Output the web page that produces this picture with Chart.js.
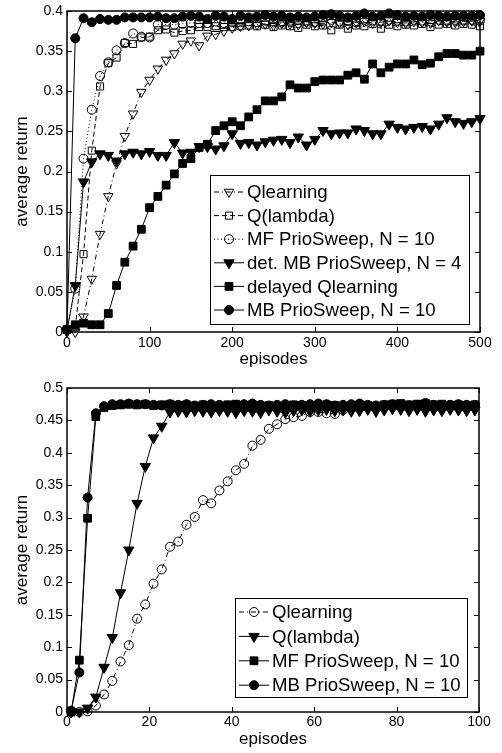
<!DOCTYPE html>
<html>
<head>
<meta charset="utf-8">
<script src="https://cdn.jsdelivr.net/npm/chart.js"></script>
<style>
  html, body { margin: 0; padding: 0; background: #fff; }
  #top { position: absolute; left: 0; top: 0; width: 502px; height: 376px; }
  #bottom { position: absolute; left: 0; top: 376px; width: 502px; height: 377px; }
</style>
</head>
<body>
<div id="top"><canvas id="chartTop"></canvas></div>
<div id="bottom"><canvas id="chartBottom"></canvas></div>
<script>
// upper plot: episodes 0..500, one point every 10 episodes
const episodesTop = [0, 10, 20, 30, 40, 50, 60, 70, 80, 90, 100, 110, 120, 130, 140, 150, 160, 170, 180, 190,
  200, 210, 220, 230, 240, 250, 260, 270, 280, 290, 300, 310, 320, 330, 340, 350, 360, 370, 380, 390,
  400, 410, 420, 430, 440, 450, 460, 470, 480, 490, 500];

const qlearningTop = [0.0, 0.0, 0.019, 0.066, 0.122, 0.169, 0.21, 0.244, 0.272, 0.299, 0.314, 0.328, 0.339, 0.347, 0.359, 0.363, 0.357, 0.369, 0.371, 0.375,
  0.379, 0.381, 0.382, 0.383, 0.384, 0.382, 0.385, 0.384, 0.383, 0.386, 0.385, 0.384, 0.386, 0.385, 0.383, 0.386, 0.387, 0.385, 0.386, 0.388,
  0.386, 0.385, 0.387, 0.386, 0.385, 0.388, 0.387, 0.386, 0.387, 0.388, 0.388];

const qlambdaTop = [0.003, 0.006, 0.097, 0.226, 0.306, 0.335, 0.342, 0.36, 0.359, 0.367, 0.368, 0.376, 0.377, 0.373, 0.375, 0.376, 0.38, 0.38, 0.381, 0.38,
  0.38, 0.381, 0.382, 0.381, 0.383, 0.38, 0.382, 0.381, 0.379, 0.383, 0.381, 0.382, 0.376, 0.383, 0.378, 0.382, 0.381, 0.384, 0.378, 0.383,
  0.381, 0.383, 0.382, 0.384, 0.38, 0.383, 0.384, 0.382, 0.384, 0.383, 0.381];

const mfSweepTop = [0.003, 0.054, 0.216, 0.277, 0.319, 0.336, 0.351, 0.36, 0.372, 0.368, 0.367, 0.383, 0.383, 0.383, 0.384, 0.385, 0.385, 0.385, 0.387, 0.385,
  0.386, 0.388, 0.387, 0.386, 0.388, 0.387, 0.386, 0.388, 0.389, 0.387, 0.386, 0.388, 0.389, 0.387, 0.388, 0.386, 0.389, 0.388, 0.387, 0.389,
  0.388, 0.387, 0.389, 0.388, 0.387, 0.389, 0.388, 0.389, 0.388, 0.389, 0.388];

const detMbSweepTop = [0.002, 0.058, 0.187, 0.212, 0.222, 0.22, 0.213, 0.222, 0.224, 0.222, 0.225, 0.22, 0.22, 0.236, 0.223, 0.224, 0.231, 0.231, 0.228, 0.232,
  0.247, 0.235, 0.236, 0.233, 0.237, 0.239, 0.24, 0.236, 0.243, 0.233, 0.24, 0.251, 0.247, 0.248, 0.248, 0.253, 0.251, 0.247, 0.247, 0.259,
  0.255, 0.253, 0.255, 0.256, 0.253, 0.259, 0.267, 0.262, 0.26, 0.262, 0.266];

const delayedQTop = [0.003, 0.009, 0.011, 0.009, 0.009, 0.023, 0.058, 0.087, 0.107, 0.128, 0.155, 0.169, 0.183, 0.197, 0.21, 0.216, 0.23, 0.234, 0.251, 0.257,
  0.262, 0.257, 0.268, 0.277, 0.288, 0.288, 0.293, 0.308, 0.304, 0.304, 0.312, 0.314, 0.314, 0.314, 0.32, 0.323, 0.315, 0.334, 0.323, 0.33,
  0.334, 0.334, 0.339, 0.333, 0.335, 0.343, 0.347, 0.347, 0.345, 0.345, 0.35];

const mbSweepTop = [0.003, 0.366, 0.391, 0.386, 0.39, 0.389, 0.389, 0.392, 0.392, 0.392, 0.392, 0.393, 0.391, 0.391, 0.393, 0.394, 0.393, 0.39, 0.394, 0.393,
  0.39, 0.394, 0.392, 0.393, 0.395, 0.393, 0.394, 0.392, 0.393, 0.392, 0.393, 0.395, 0.396, 0.394, 0.392, 0.394, 0.397, 0.393, 0.394, 0.397,
  0.395, 0.393, 0.394, 0.393, 0.395, 0.394, 0.393, 0.394, 0.394, 0.394, 0.395];

// lower plot: episodes 1..99, every second episode
const episodesBottom = [1, 3, 5, 7, 9, 11, 13, 15, 17, 19, 21, 23, 25, 27, 29, 31, 33, 35, 37, 39,
  41, 43, 45, 47, 49, 51, 53, 55, 57, 59, 61, 63, 65, 67, 69, 71, 73, 75, 77, 79,
  81, 83, 85, 87, 89, 91, 93, 95, 97, 99];

const qlearningBottom = [0.0, 0.0, 0.001, 0.01, 0.027, 0.048, 0.078, 0.103, 0.144, 0.166, 0.198, 0.22, 0.255, 0.263, 0.289, 0.301, 0.327, 0.322, 0.342, 0.356,
  0.373, 0.383, 0.411, 0.42, 0.437, 0.444, 0.452, 0.455, 0.457, 0.463, 0.463, 0.461, 0.46, 0.466, 0.469, 0.47, 0.471, 0.47, 0.472, 0.471,
  0.472, 0.473, 0.474, 0.477, 0.474, 0.473, 0.474, 0.473, 0.472, 0.473];

const qlambdaBottom = [0.0, 0.0, 0.006, 0.023, 0.069, 0.115, 0.184, 0.25, 0.322, 0.379, 0.423, 0.441, 0.463, 0.464, 0.463, 0.465, 0.464, 0.463, 0.465, 0.464,
  0.462, 0.465, 0.464, 0.462, 0.466, 0.464, 0.462, 0.465, 0.466, 0.464, 0.466, 0.467, 0.465, 0.466, 0.464, 0.465, 0.467, 0.464, 0.466, 0.468,
  0.467, 0.465, 0.467, 0.464, 0.466, 0.465, 0.467, 0.466, 0.465, 0.466];

const mfSweepBottom = [0.0, 0.08, 0.299, 0.456, 0.47, 0.473, 0.474, 0.475, 0.474, 0.475, 0.473, 0.474, 0.475, 0.473, 0.474, 0.472, 0.474, 0.473, 0.472, 0.474,
  0.475, 0.473, 0.474, 0.472, 0.473, 0.472, 0.473, 0.474, 0.473, 0.472, 0.473, 0.474, 0.473, 0.472, 0.473, 0.474, 0.473, 0.472, 0.474, 0.475,
  0.476, 0.474, 0.475, 0.476, 0.474, 0.475, 0.473, 0.474, 0.473, 0.474];

const mbSweepBottom = [0.002, 0.061, 0.331, 0.461, 0.472, 0.475, 0.475, 0.476, 0.475, 0.475, 0.474, 0.473, 0.475, 0.474, 0.475, 0.473, 0.474, 0.475, 0.474, 0.473,
  0.474, 0.475, 0.476, 0.474, 0.473, 0.474, 0.475, 0.473, 0.474, 0.475, 0.476, 0.475, 0.473, 0.474, 0.475, 0.476, 0.474, 0.473, 0.474, 0.475,
  0.474, 0.473, 0.474, 0.475, 0.474, 0.473, 0.474, 0.475, 0.474, 0.474];

const FONT = '"Liberation Sans", Arial, Helvetica, sans-serif';
const OPEN = 'rgba(0,0,0,0)';

function pts(xs, ys) {
  return xs.map((x, i) => ({ x: x, y: ys[i] }));
}

function series(label, xs, ys, style, filled, dash, radius, rot, order) {
  return {
    label: label,
    data: pts(xs, ys),
    borderColor: '#000',
    borderWidth: 1,
    borderDash: dash,
    pointStyle: style,
    pointRadius: radius,
    pointRotation: rot,
    pointBorderWidth: 1,
    pointBorderColor: '#000',
    pointBackgroundColor: filled ? '#000' : OPEN,
    tension: 0,
    clip: false,
    order: order
  };
}

// MATLAB-ish box with inward ticks on all sides
const frameTicks = {
  id: 'frameTicks',
  afterDatasetsDraw(chart) {
    const { ctx, chartArea: a, scales } = chart;
    const sx = scales.x, sy = scales.y;
    ctx.save();
    ctx.strokeStyle = '#000';
    ctx.lineWidth = 1;
    ctx.beginPath();
    sx.ticks.forEach(t => {
      const px = Math.round(sx.getPixelForValue(t.value)) + 0.5;
      ctx.moveTo(px, a.bottom); ctx.lineTo(px, a.bottom - 5);
      ctx.moveTo(px, a.top); ctx.lineTo(px, a.top + 5);
    });
    sy.ticks.forEach(t => {
      const py = Math.round(sy.getPixelForValue(t.value)) + 0.5;
      ctx.moveTo(a.left, py); ctx.lineTo(a.left + 5, py);
      ctx.moveTo(a.right, py); ctx.lineTo(a.right - 5, py);
    });
    ctx.stroke();
    ctx.lineWidth = 1.5;
    ctx.strokeRect(a.left, a.top, a.right - a.left, a.bottom - a.top);
    ctx.restore();
  }
};

// legend box drawn inside the plot area
const boxLegend = {
  id: 'boxLegend',
  afterDraw(chart, args, o) {
    const { ctx, chartArea: a } = chart;
    const x1 = a.right - o.right, x0 = x1 - o.width;
    const y1 = a.bottom - o.bottom, y0 = y1 - o.height;
    ctx.save();
    ctx.fillStyle = '#fff';
    ctx.fillRect(x0, y0, x1 - x0, y1 - y0);
    ctx.strokeStyle = '#000';
    ctx.lineWidth = 1;
    ctx.strokeRect(x0 + 0.5, y0 + 0.5, x1 - x0, y1 - y0);
    o.labels.forEach((idx, i) => {
      const ds = chart.data.datasets[idx];
      const y = y0 + o.first + i * o.rowH;
      ctx.strokeStyle = '#000';
      ctx.lineWidth = 1;
      ctx.setLineDash(ds.borderDash || []);
      ctx.beginPath();
      ctx.moveTo(x0 + 4, y);
      ctx.lineTo(x0 + 34, y);
      ctx.stroke();
      ctx.setLineDash([]);
      ctx.fillStyle = ds.pointBackgroundColor;
      Chart.helpers.drawPoint(ctx, {
        pointStyle: ds.pointStyle,
        radius: ds.pointRadius,
        rotation: ds.pointRotation,
        borderWidth: 1
      }, x0 + 19, y);
      ctx.fillStyle = '#000';
      ctx.font = '18.6px ' + FONT;
      ctx.textBaseline = 'middle';
      ctx.textAlign = 'left';
      ctx.fillText(ds.label, x0 + 37, y + 1);
    });
    ctx.restore();
  }
};

function axisOpts(min, max, step, size, pad, titlePad, isX) {
  const o = {
    type: 'linear',
    min: min,
    max: max,
    grid: { display: false, drawTicks: false },
    border: { display: false },
    ticks: {
      stepSize: step,
      autoSkip: false,
      maxRotation: 0,
      padding: pad,
      color: '#000',
      font: { family: FONT, size: 14, lineHeight: 1 },
      callback: v => String(+v.toFixed(2))
    },
    title: {
      display: true,
      text: isX ? 'episodes' : 'average return',
      color: '#000',
      font: { family: FONT, size: 17 },
      padding: titlePad
    }
  };
  o.afterFit = isX ? (s => { s.height = size; }) : (s => { s.width = size; });
  return o;
}

Chart.defaults.animation = false;

new Chart(document.getElementById('chartTop'), {
  type: 'line',
  data: {
    datasets: [
      series('Qlearning', episodesTop, qlearningTop, 'triangle', false, [5, 3, 1, 3], 5.5, 180, 6),
      series('Q(lambda)', episodesTop, qlambdaTop, 'rect', false, [5, 3], 5, 0, 5),
      series('MF PrioSweep, N = 10', episodesTop, mfSweepTop, 'circle', false, [1, 2.5], 4.5, 0, 4),
      series('det. MB PrioSweep, N = 4', episodesTop, detMbSweepTop, 'triangle', true, [], 6, 180, 3),
      series('delayed Qlearning', episodesTop, delayedQTop, 'rect', true, [], 5.5, 0, 2),
      series('MB PrioSweep, N = 10', episodesTop, mbSweepTop, 'circle', true, [], 4.5, 0, 1)
    ]
  },
  options: {
    responsive: true,
    maintainAspectRatio: false,
    devicePixelRatio: 1,
    layout: { padding: { left: 0, top: 7, right: 22, bottom: 0 } },
    scales: {
      x: axisOpts(0, 500, 100, 44, 4, { bottom: 6 }, true),
      y: axisOpts(0, 0.4, 0.05, 67, 4, { top: 12 }, false)
    },
    plugins: {
      legend: { display: false },
      tooltip: { enabled: false },
      boxLegend: { right: 11, bottom: 8, width: 259, height: 149, first: 17, rowH: 23.6, labels: [0, 1, 2, 3, 4, 5] }
    }
  },
  plugins: [frameTicks, boxLegend]
});

new Chart(document.getElementById('chartBottom'), {
  type: 'line',
  data: {
    datasets: [
      series('Qlearning', episodesBottom, qlearningBottom, 'circle', false, [5, 3, 1, 3], 4.5, 0, 4),
      series('Q(lambda)', episodesBottom, qlambdaBottom, 'triangle', true, [], 6, 180, 3),
      series('MF PrioSweep, N = 10', episodesBottom, mfSweepBottom, 'rect', true, [], 5.5, 0, 2),
      series('MB PrioSweep, N = 10', episodesBottom, mbSweepBottom, 'circle', true, [], 4.5, 0, 1)
    ]
  },
  options: {
    responsive: true,
    maintainAspectRatio: false,
    devicePixelRatio: 1,
    layout: { padding: { left: 0, top: 12, right: 23, bottom: 0 } },
    scales: {
      x: axisOpts(0, 100, 20, 41, 3, { bottom: 3 }, true),
      y: axisOpts(0, 0.5, 0.05, 67, 4, { top: 12 }, false)
    },
    plugins: {
      legend: { display: false },
      tooltip: { enabled: false },
      boxLegend: { right: 12, bottom: 15, width: 232, height: 99, first: 14, rowH: 24.4, labels: [0, 1, 2, 3] }
    }
  },
  plugins: [frameTicks, boxLegend]
});
</script>
</body>
</html>
